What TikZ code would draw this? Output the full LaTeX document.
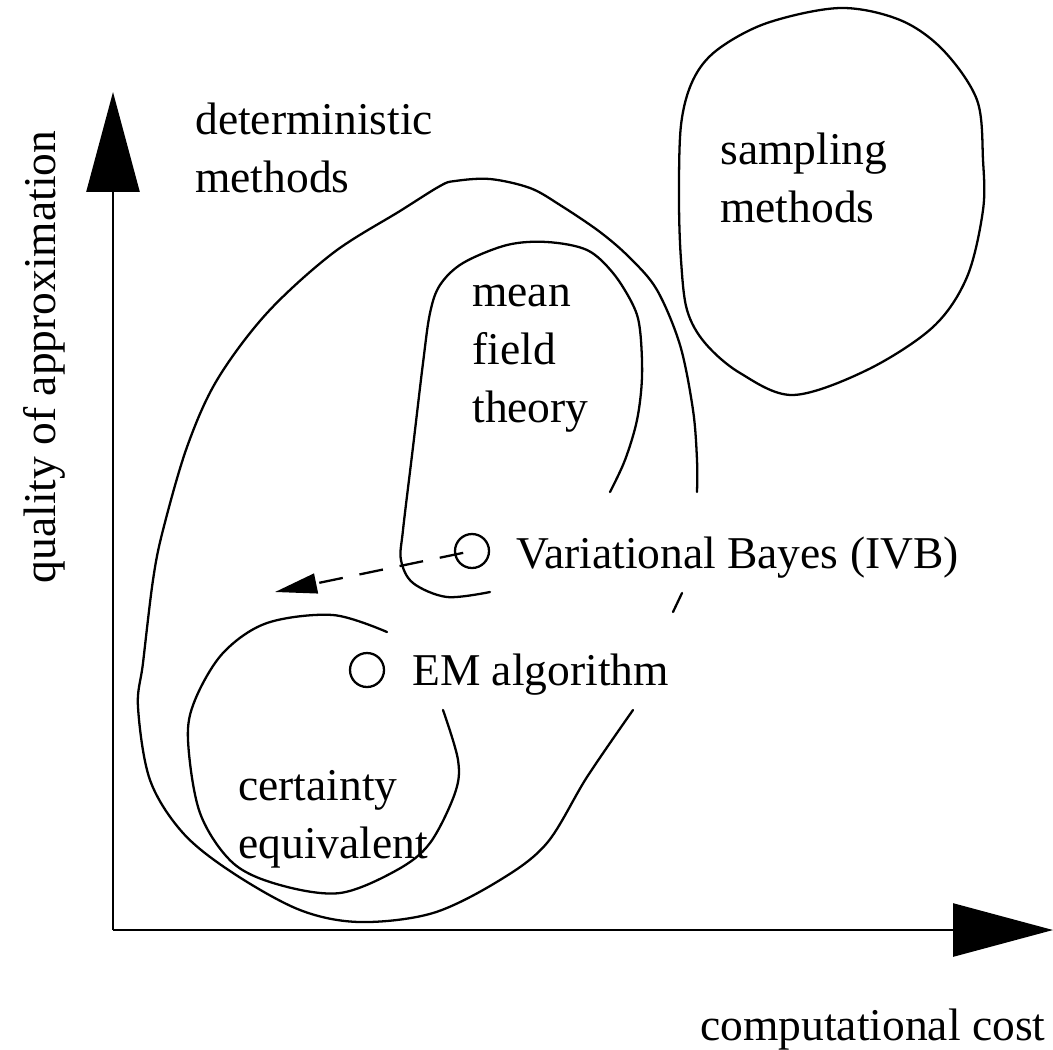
\documentclass[tikz,border=0pt]{standalone}
\usepackage{fontspec}
\setmainfont{Liberation Serif}
\usetikzlibrary{arrows.meta}
\begin{document}
\begin{tikzpicture}[x=0.02cm, y=-0.02cm]
\tikzset{
  region/.style={line width=1.3pt, line join=round, line cap=round},
  lbl/.style={font=\fontsize{25.9}{33}\selectfont, inner sep=0pt, anchor=base west, align=left},
  dot/.style={circle, draw, line width=1.3pt, minimum size=0.68cm, inner sep=0pt},
  axis/.style={line width=1.5pt, -{Triangle[length=2cm, width=1.06cm]}},
  hint/.style={line width=1.3pt, dash pattern=on 0.48cm off 0.34cm, dash phase=0.64cm,
               -{Triangle[length=0.84cm, width=0.4cm]}}
}
\useasboundingbox (0,0) rectangle (1053,1049);

% axes
\coordinate (origin) at (113,930);
\coordinate (ytip) at (113,92);
\coordinate (xtip) at (1053,930);
\draw[axis] (origin) -- (ytip);
\draw[axis] (origin) -- (xtip);
\node[lbl, anchor=base, rotate=90] (ylabel) at (55,357) {quality of approximation};
\node[lbl] (xlabel) at (700,1040) {computational cost};

% sampling methods (multi-line labels are placed by their last baseline)
\draw[region] plot[smooth cycle, tension=0.55] coordinates {
  (840,8) (900,20) (943,50) (977,100) (983,160) (983,210) (967,277) (933,327)
  (867,370) (793,395) (740,373) (705,343) (687,310) (681,260) (679,200)
  (681,125) (693,80) (717,50) (767,23)};
\node[lbl] (sampling) at (720,222) {sampling\\methods};

% deterministic methods
\draw[region] plot[smooth, tension=0.55] coordinates {
  (697,492) (697,460) (693,410) (680,345) (657,290) (630,258) (600,232)
  (560,205) (530,188) (490,179) (455,181) (440,186) (400,211) (333,253)
  (267,313) (217,380) (187,447) (163,530) (153,580) (143,663) (138,707)
  (150,780) (183,833) (233,873) (300,910) (360,922) (433,913) (500,880)
  (547,843) (587,777) (633,710)};
\draw[region] plot[smooth] coordinates {(673,612) (682,593)};
\node[lbl] (deterministic) at (195,192) {deterministic\\methods};

% mean field theory
\draw[region] plot[smooth, tension=0.55] coordinates {
  (610,492) (625,460) (637,420) (642,377) (640,330) (633,305) (613,273)
  (587,250) (547,242) (507,245) (463,263) (440,285) (430,313) (423,363)
  (413,447) (403,530) (401,560) (413,583) (447,597) (490,592)};
\node[lbl] (meanfield) at (472,422) {mean\\field\\theory};

% certainty equivalent
\draw[region] plot[smooth, tension=0.55] coordinates {
  (387,632) (333,615) (267,623) (223,653) (195,700) (188,740) (200,813)
  (233,863) (280,885) (340,893) (397,870) (430,843) (455,793) (458,760)
  (443,710)};
\node[lbl] (certainty) at (238,858) {certainty\\equivalent};

% points
\node[dot] (vb) at (472,551) {};
\node[lbl] (vblabel) at (516,568) {Variational Bayes (IVB)};
\node[dot] (em) at (367,670) {};
\node[lbl] (emlabel) at (412,685) {EM algorithm};

\coordinate (emside) at (275,592);
\draw[hint] (vb.center) -- (emside);
\end{tikzpicture}
\end{document}
